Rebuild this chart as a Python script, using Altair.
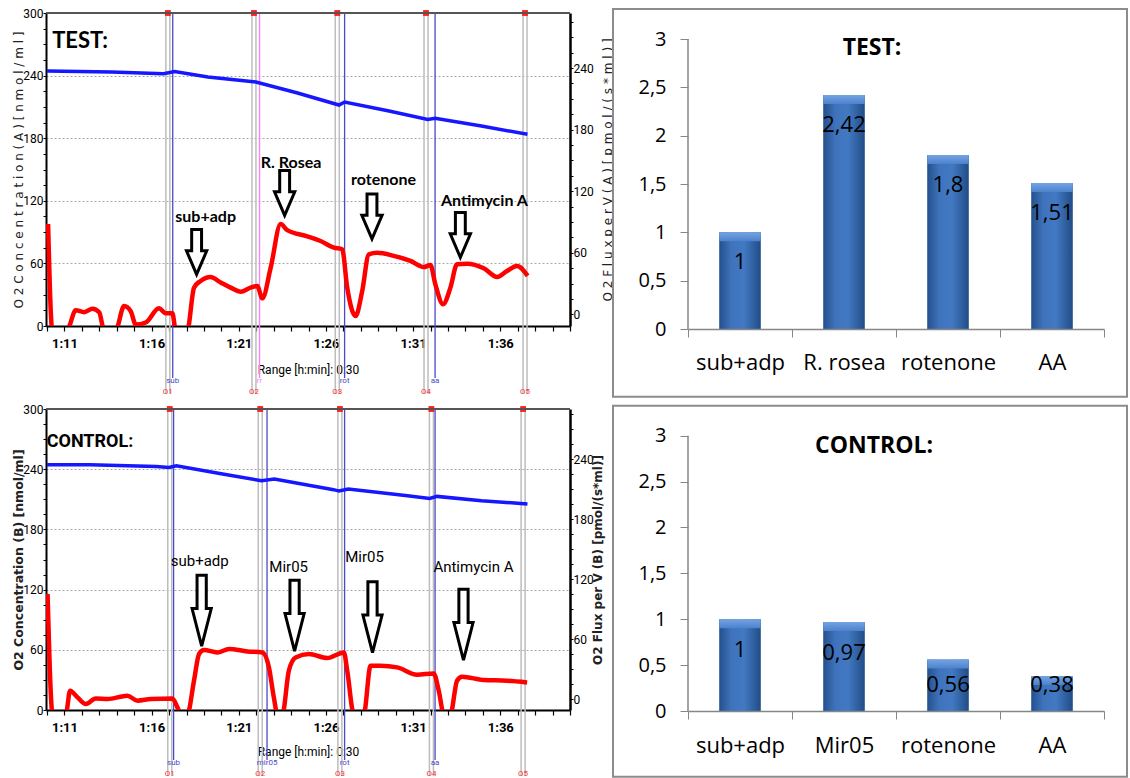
import altair as alt
import pandas as pd

# ---------------- data ----------------
# TEST trace (time in minutes after 1:00, flux in pmol/(s*ml), O2 conc in nmol/ml)
TEST_RED_T = [70.06, 70.30, 71.15, 71.65, 72.13, 72.61, 72.99, 73.27, 73.94, 74.42, 74.80, 75.09,
              75.66, 76.42, 76.81, 77.19, 77.38, 78.05, 78.43, 78.81, 79.38, 79.96, 80.53, 81.11,
              81.68, 82.06, 82.35, 82.83, 83.40, 83.78, 84.93, 85.69, 86.45, 86.93, 87.22, 87.70,
              88.08, 88.46, 88.94, 89.89, 90.85, 91.61, 91.99, 92.28, 92.72, 93.14, 93.52, 94.10,
              95.05, 95.82, 96.39, 96.96, 97.57]
TEST_RED_V = [88, -15, -15, 4, 2, 5.5, 2, -15, -15, 8, 3, -10,
              -8, 6, 1, 1, -15, -15, 26, 32.5, 36.4, 31, 26, 22,
              26, 27.6, 15.6, 45.5, 88, 82, 76, 71.5, 65, 63.4, 26, -1.7,
              22.7, 58.5, 60, 57, 52, 46, 48, 29, 9.8, 26, 48.8, 49.4,
              44.9, 36.4, 42.2, 47, 37.4]
TEST_BLUE_T = [70.0, 73.71, 76.68, 77.32, 79.23, 81.98, 84.32, 86.75, 87.07, 89.62, 91.84, 92.26, 94.92, 97.56]
TEST_BLUE_V = [244.4, 243.5, 241.8, 243.8, 238.7, 233.9, 223.6, 211.8, 214.7, 206, 198, 199, 191.7, 183.7]

CONTROL_RED_T = [70.03, 70.32, 71.08, 71.32, 71.75, 72.22, 72.80, 73.47, 74.61, 75.19, 75.95, 77.19,
                 77.48, 77.67, 78.05, 78.43, 78.72, 79.00, 79.77, 80.44, 81.49, 82.35, 82.73, 83.01,
                 83.21, 83.50, 83.87, 84.26, 85.02, 86.07, 87.03, 87.22, 87.60, 88.17, 88.56, 89.13,
                 90.09, 91.23, 92.18, 92.47, 92.76, 93.14, 93.52, 93.81, 95.05, 96.39, 97.54]
CONTROL_RED_V = [105, -15, -15, 8.3, 1.6, -5, 0.6, 0, 3.3, -1.7, 0, 0.6,
                 -8.4, -15, -15, 18.3, 45, 49, 46.6, 50, 47.6, 46.6, 31.6, 1.6,
                 -15, -15, 28.3, 41.6, 45, 41, 46.6, 28.3, -15, -15, 33.3, 33.3,
                 31.6, 24.3, 25.6, 8.3, -15, -15, 18.3, 22.3, 19, 18.3, 16.6]
CONTROL_BLUE_T = [70.0, 72.44, 76.26, 77.0, 77.42, 80.07, 82.30, 83.04, 86.44, 86.75, 87.28, 90.68,
                  91.95, 92.37, 94.92, 97.56]
CONTROL_BLUE_V = [244.5, 244.5, 242.8, 241.8, 243.5, 235.2, 228.5, 230.2, 219.6, 218.2, 220.2, 213.6,
                  210.9, 212.9, 208.6, 205.3]

MARK_NAMES = ["O1", "O2", "O3", "O4", "O5"]
TEST_MARK_T = [76.93, 81.87, 86.65, 91.74, 97.42]
TEST_EVT_T = [77.21, 82.19, 87.07, 92.26]
TEST_EVT_NAMES = ["sub", "rr", "rot", "aa"]
CONTROL_MARK_T = [77.04, 82.23, 86.80, 92.05, 97.31]
CONTROL_EVT_T = [77.26, 82.62, 87.07, 92.26]
CONTROL_EVT_NAMES = ["sub", "mir05", "rot", "aa"]

TEST_ANN_TEXT = ["sub+adp", "R. Rosea", "rotenone", "Antimycin A"]
TEST_ARROW_T = [78.58, 83.63, 88.64, 93.71]
TEST_ARROW_V = [60.8, 118.3, 95.4, 77.4]
TEST_ANN_T = [79.10, 84.0, 89.30, 95.09]
TEST_ANN_V = [94.9, 147.1, 131.0, 110.5]

CONTROL_ANN_TEXT = ["sub+adp", "Mir05", "Mir05", "Antimycin A"]
CONTROL_ARROW_T = [78.87, 84.20, 88.67, 93.89]
CONTROL_ARROW_V = [88.3, 83.3, 81.8, 74.3]
CONTROL_ANN_T = [78.76, 83.86, 88.21, 94.46]
CONTROL_ANN_V = [138.3, 131.6, 142.3, 131.6]

TEST_CATS = ["sub+adp", "R. rosea", "rotenone", "AA"]
TEST_VALS = [1, 2.42, 1.8, 1.51]
CONTROL_CATS = ["sub+adp", "Mir05", "rotenone", "AA"]
CONTROL_VALS = [1, 0.97, 0.56, 0.38]

# ---------------- styles ----------------
NARROW = "Roboto"
SANS = "Open Sans"
GRAY = "#868686"
TW = 524
XDOM = [69.94, 100]

EVT_COLORS = {"sub": "#4a4ac8", "rr": "#ff7cff", "rot": "#4a4ac8", "aa": "#4a4ac8", "mir05": "#3aaa3a"}

ARROW_TOP = "M-0.22,-1L0.22,-1L0.22,-0.05L0.45,-0.05L0,1L-0.45,-0.05L-0.22,-0.05Z"
ARROW_BOT = "M-0.13,-1L0.13,-1L0.13,-0.06L0.27,-0.06L0,1L-0.27,-0.06L-0.13,-0.06Z"

xscale = alt.Scale(domain=XDOM, nice=False, zero=False)


def one():
    return pd.DataFrame({"a": [0]})


def trace_chart(p):
    H = p["H"]
    red = pd.DataFrame({"t": p["red_t"], "flux": p["red_v"]})
    blue = pd.DataFrame({"t": p["blue_t"], "conc": p["blue_v"]})
    marks = pd.DataFrame({"t": p["mark_t"], "name": MARK_NAMES})
    evts = pd.DataFrame({"t": p["evt_t"], "name": p["evt_names"]})
    arrows = pd.DataFrame({"t": p["arrow_t"], "flux": p["arrow_v"]})
    anns = pd.DataFrame({"t": p["ann_t"], "flux": p["ann_v"], "txt": p["ann_txt"]})

    fscale = alt.Scale(domain=p["flux_dom"], nice=False, zero=False)
    cscale = alt.Scale(domain=[0, 300], nice=False, zero=False)
    ecol = alt.Color("name:N", legend=None,
                     scale=alt.Scale(domain=p["evt_names"], range=[EVT_COLORS[n] for n in p["evt_names"]]))

    major = "datum.value % 60 == 0"
    grid_kw = dict(gridColor="#a8a8a8", gridDash=[2, 2], gridWidth=1,
                   gridOpacity={"condition": {"test": major, "value": 1}, "value": 0})

    xaxis = alt.Axis(values=list(range(70, 101)),
                     labelExpr="(datum.value - 71) % 5 == 0 ? '1:' + (datum.value - 60) : ''",
                     title="Range [h:min]: 0:30", titleFont=NARROW, titleFontSize=12,
                     titleFontWeight="normal", titleColor="black", titleY=p["xtitle_y"],
                     titleBaseline="middle",
                     labelFont=NARROW, labelFontSize=13, labelFontWeight="bold", labelColor="black",
                     labelPadding=6, labelFlush=False, labelOverlap=False, labelBound=False,
                     tickColor="black", tickSize=5, tickWidth=1.2,
                     domainColor="black", domainWidth=2, grid=False)

    def xq():
        return alt.X("t:Q", scale=xscale, axis=xaxis)

    laxis = alt.Axis(orient="left", values=list(range(0, 301, 15)),
                     labelExpr=f"{major} ? datum.label : ''",
                     labelFont=NARROW, labelFontSize=12, labelColor="black", labelPadding=0,
                     tickColor="black", tickSize=3, domainColor="black", domainWidth=2,
                     title=p["ltitle"], titleFont=p["ltitle_font"], titleFontSize=p["ltitle_size"],
                     titleFontWeight=p["ltitle_weight"], titleColor="#222222",
                     titleX=p["ltitle_x"], titleY=H / 2, titleAngle=270, titleBaseline="middle",
                     titleAlign="center", labelOverlap=False, **grid_kw)
    raxis = alt.Axis(orient="right", values=list(range(0, 286, 15)),
                     labelExpr=f"{major} ? datum.label : ''",
                     labelFont=NARROW, labelFontSize=12, labelColor="black", labelPadding=0,
                     tickColor="black", tickSize=3, domainColor="black", domainWidth=2.5,
                     title=p["rtitle"], titleFont=p["rtitle_font"], titleFontSize=p["rtitle_size"],
                     titleFontWeight=p["rtitle_weight"], titleColor="#222222",
                     titleX=p["rtitle_x"], titleY=H / 2, titleAngle=270, titleBaseline="middle",
                     titleAlign="center", labelOverlap=False, **grid_kw)

    gray_l = alt.Chart(marks).mark_rule(color="#bdbdbd", strokeWidth=1.5, xOffset=-2).encode(
        x=xq(), y=alt.value(0), y2=alt.value(H + p["o_dy"] + 2))
    gray_r = alt.Chart(marks).mark_rule(color="#bdbdbd", strokeWidth=1.5, xOffset=2).encode(
        x=xq(), y=alt.value(0), y2=alt.value(H + p["o_dy"] + 2))
    evt_rules = alt.Chart(evts).mark_rule(strokeWidth=1.3).encode(
        x=xq(), y=alt.value(0), y2=alt.value(H + p["evt_dy"] - 3), color=ecol)
    blue_line = alt.Chart(blue).mark_line(color="#1616ff", strokeWidth=3.5, clip=True).encode(
        x=xq(), y=alt.Y("conc:Q", scale=cscale, axis=laxis))
    red_line = alt.Chart(red).mark_line(color="#ff0000", strokeWidth=4.5, clip=True,
                                        interpolate="monotone").encode(
        x=xq(), y=alt.Y("flux:Q", scale=fscale, axis=raxis))
    squares = alt.Chart(marks).mark_square(size=34, color="#ff1e1e", opacity=1, filled=True).encode(
        x=xq(), y=alt.value(0))
    evt_txt = alt.Chart(evts).mark_text(font=NARROW, fontSize=8, baseline="middle").encode(
        x=xq(), y=alt.value(H + p["evt_dy"]), text="name:N", color=ecol)
    o_txt = alt.Chart(marks).mark_text(font=NARROW, fontSize=8, baseline="middle", color="#ff3030").encode(
        x=xq(), y=alt.value(H + p["o_dy"]), text="name:N")
    arrow_pts = alt.Chart(arrows).mark_point(shape=p["arrow_shape"], size=p["arrow_size"], filled=True,
                                             fill="white", stroke="black", strokeWidth=3,
                                             opacity=1).encode(
        x=xq(), y=alt.Y("flux:Q", scale=fscale, axis=None))
    ann = alt.Chart(anns).mark_text(font=p["ann_font"], fontSize=p["ann_size"],
                                    fontWeight=p["ann_weight"], color="black", baseline="middle").encode(
        x=xq(), y=alt.Y("flux:Q", scale=fscale, axis=None), text="txt:N")
    ptitle = alt.Chart(pd.DataFrame({"txt": [p["title"]]})).mark_text(
        font=p["title_font"], fontSize=p["title_size"], fontWeight="bold", color="black",
        baseline="middle").encode(x=alt.value(p["title_x"]), y=alt.value(p["title_y"]), text="txt:N")
    border = alt.Chart(one()).mark_rule(color="#555555", strokeWidth=2).encode(
        x=alt.value(0), x2=alt.value(TW), y=alt.value(0))

    return alt.layer(gray_l, gray_r, evt_rules, blue_line, red_line, squares, evt_txt, o_txt,
                     arrow_pts, ann, ptitle, border).resolve_scale(y="independent").properties(
        width=TW, height=H)


BAR_GRAD = alt.Gradient(gradient="linear", x1=0, x2=1, y1=0, y2=0, stops=[
    alt.GradientStop(color="#24508c", offset=0),
    alt.GradientStop(color="#3f74bd", offset=0.3),
    alt.GradientStop(color="#4279c2", offset=0.6),
    alt.GradientStop(color="#214c86", offset=1)])
TOP_GRAD = alt.Gradient(gradient="linear", x1=0, x2=0, y1=0, y2=1, stops=[
    alt.GradientStop(color="#74a3e2", offset=0),
    alt.GradientStop(color="#4c82cc", offset=1)])


def bar_chart(p):
    df = pd.DataFrame({"cat": p["cats"], "value": p["vals"]})
    H = p["H"]
    yscale = alt.Scale(domain=[0, p["ytop"]], nice=False, zero=True)
    xs = alt.Scale(domain=p["cats"], paddingInner=0, paddingOuter=0)
    xax = alt.Axis(title=None, labelAngle=0, tickBand="extent", tickSize=8, tickColor=GRAY,
                   domainColor=GRAY, domainWidth=1.5, labelFont=SANS, labelFontSize=22,
                   labelColor="black", labelPadding=p["xlab_pad"], grid=False, zindex=1)
    yax = alt.Axis(title=None, values=[0, 0.5, 1, 1.5, 2, 2.5, 3],
                   labelExpr="replace(toString(datum.value), '.', ',')", domain=False,
                   tickSize=8, tickColor=GRAY, labelFont=SANS, labelFontSize=20, labelColor="black",
                   labelPadding=14, grid=False, zindex=1)
    X = alt.X("cat:N", scale=xs, sort=p["cats"], axis=xax)
    bx = p["box"]
    box = alt.Chart(one()).mark_rect(fill="white", stroke="#8c8c8c", strokeWidth=2).encode(
        x=alt.value(bx[0]), x2=alt.value(bx[1]), y=alt.value(bx[2]), y2=alt.value(bx[3]))
    bars = alt.Chart(df).mark_bar(width=alt.RelativeBandSize(0.4), color=BAR_GRAD).encode(
        x=X, y=alt.Y("value:Q", scale=yscale, axis=yax))
    strip = alt.Chart(df).transform_calculate(lo=f"datum.value - {p['strip']}").mark_bar(
        width=alt.RelativeBandSize(0.4), color=TOP_GRAD).encode(
        x=X, y=alt.Y("value:Q", scale=yscale, axis=yax), y2="lo:Q")
    labels = alt.Chart(df).transform_calculate(
        ly=f"max(datum.value - {p['lab_off']}, {p['lab_min']})",
        lab="replace(toString(datum.value), '.', ',')").mark_text(
        font=SANS, fontSize=22, color="black", baseline="middle").encode(
        x=X, y=alt.Y("ly:Q", scale=yscale, axis=yax), text="lab:N")
    yline = alt.Chart(one()).mark_rule(color=GRAY, strokeWidth=1.5).encode(
        x=alt.value(0), y=alt.Y(datum=0, scale=yscale, axis=yax), y2=alt.Y2(datum=3))
    title = alt.Chart(pd.DataFrame({"txt": [p["title"]]})).mark_text(
        font=SANS, fontSize=23, fontWeight="bold", color="black", baseline="middle").encode(
        x=alt.value(p["title_x"]), y=alt.value(p["title_y"]), text="txt:N")
    return alt.layer(box, bars, strip, labels, yline, title).properties(width=416, height=H)


test_trace = trace_chart(dict(
    H=313, flux_dom=[-11.4, 293.7], red_t=TEST_RED_T, red_v=TEST_RED_V, blue_t=TEST_BLUE_T,
    blue_v=TEST_BLUE_V, mark_t=TEST_MARK_T, evt_t=TEST_EVT_T, evt_names=TEST_EVT_NAMES,
    arrow_t=TEST_ARROW_T, arrow_v=TEST_ARROW_V, ann_t=TEST_ANN_T, ann_v=TEST_ANN_V,
    ann_txt=TEST_ANN_TEXT, xtitle_y=43, evt_dy=55, o_dy=66,
    ltitle="O 2   C o n c e n t r a t i o n   ( A )   [ n m o l / m l ]",
    ltitle_font="DejaVu Sans", ltitle_size=12, ltitle_weight="normal", ltitle_x=-28,
    rtitle="O 2   F l u x   p e r   V   ( A )   [ p m o l / ( s * m l ) ]",
    rtitle_font="DejaVu Sans", rtitle_size=12, rtitle_weight="normal", rtitle_x=37,
    arrow_shape=ARROW_TOP, arrow_size=2025, ann_font="Lato", ann_size=16, ann_weight="bold",
    title="TEST:", title_font="Lato", title_size=22, title_x=34, title_y=28))

control_trace = trace_chart(dict(
    H=301, flux_dom=[-11, 290], red_t=CONTROL_RED_T, red_v=CONTROL_RED_V, blue_t=CONTROL_BLUE_T,
    blue_v=CONTROL_BLUE_V, mark_t=CONTROL_MARK_T, evt_t=CONTROL_EVT_T, evt_names=CONTROL_EVT_NAMES,
    arrow_t=CONTROL_ARROW_T, arrow_v=CONTROL_ARROW_V, ann_t=CONTROL_ANN_T, ann_v=CONTROL_ANN_V,
    ann_txt=CONTROL_ANN_TEXT, xtitle_y=41, evt_dy=53, o_dy=64,
    ltitle="O2 Concentration (B) [nmol/ml]",
    ltitle_font="DejaVu Sans", ltitle_size=12.5, ltitle_weight="bold", ltitle_x=-27.5,
    rtitle="O2 Flux per V (B) [pmol/(s*ml)]",
    rtitle_font="DejaVu Sans", rtitle_size=12, rtitle_weight="bold", rtitle_x=27,
    arrow_shape=ARROW_BOT, arrow_size=5041, ann_font=NARROW, ann_size=15, ann_weight="normal",
    title="CONTROL:", title_font=NARROW, title_size=18, title_x=44, title_y=33))

test_bar = bar_chart(dict(
    cats=TEST_CATS, vals=TEST_VALS, H=316, ytop=3.269, strip=0.093, lab_off=0.31, lab_min=0.28,
    box=[-75, 439, -4, 383.7], title="TEST:", title_x=184, title_y=35, xlab_pad=15))
control_bar = bar_chart(dict(
    cats=CONTROL_CATS, vals=CONTROL_VALS, H=302, ytop=3.291, strip=0.098, lab_off=0.338,
    lab_min=0.284, box=[-75, 439, -3.3, 367.7], title="CONTROL:", title_x=186, title_y=37,
    xlab_pad=16))

chart = alt.concat(test_trace, test_bar, control_trace, control_bar, columns=2,
                   spacing={"row": 80, "column": 118}, bounds="flush").properties(
    padding={"left": 11, "top": 7, "right": 0, "bottom": 0}).configure_view(stroke=None)

chart.save("out.html", embed_options={"renderer": "svg", "actions": False})
